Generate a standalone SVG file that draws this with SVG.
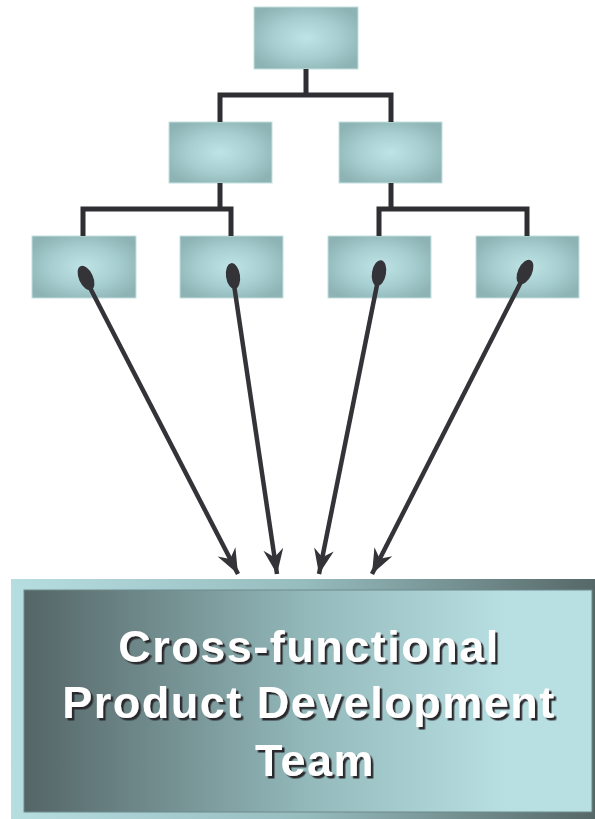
<svg xmlns="http://www.w3.org/2000/svg" width="595" height="819" viewBox="0 0 595 819">
<defs>
<radialGradient id="boxg" cx="0.5" cy="0.5" r="0.6">
<stop offset="0" stop-color="#bfe4e7"/>
<stop offset="0.55" stop-color="#a6cdcf"/>
<stop offset="1" stop-color="#8db3b4"/>
</radialGradient>
<linearGradient id="outerg" x1="0" y1="0" x2="1" y2="0">
<stop offset="0" stop-color="#b6dde0"/>
<stop offset="0.5" stop-color="#96bcbe"/>
<stop offset="1" stop-color="#556666"/>
</linearGradient>
<linearGradient id="innerg" x1="0" y1="0" x2="1" y2="0">
<stop offset="0" stop-color="#546566"/>
<stop offset="0.5" stop-color="#93b9bb"/>
<stop offset="0.85" stop-color="#b8dfe2"/>
<stop offset="1" stop-color="#b8dfe2"/>
</linearGradient>
<filter id="shadow" x="-5%" y="-20%" width="110%" height="140%">
<feDropShadow dx="2.5" dy="2.5" stdDeviation="0.4" flood-color="#2a2a2e" flood-opacity="1"/>
</filter>
<marker id="arr" markerUnits="userSpaceOnUse" markerWidth="30" markerHeight="30" refX="25" refY="10" orient="auto" viewBox="0 0 30 20">
<path d="M25,10 L0,0 L8,10 L0,20 Z" fill="#333338"/>
</marker>
<style>
.node rect{fill:url(#boxg);stroke:#c4e0e0;stroke-width:1}
.tree{fill:none;stroke:#2e2e33;stroke-width:5;stroke-linejoin:miter}
.arrow{fill:none;stroke:#333338;stroke-width:4.5}
.dot{fill:#333338}
.lbl{font-family:"Liberation Sans",Arial,sans-serif;font-weight:bold;font-size:45px;text-anchor:middle;letter-spacing:1.5px;fill:#ffffff;filter:url(#shadow)}
</style>
</defs>
<g id="node-top" class="node"><rect x="254" y="7" width="104" height="62"/></g>
<g id="node-l2a" class="node"><rect x="169" y="122" width="103" height="61"/></g>
<g id="node-l2b" class="node"><rect x="339" y="122" width="103" height="61"/></g>
<g id="node-l3a" class="node"><rect x="32" y="236" width="104" height="62"/></g>
<g id="node-l3b" class="node"><rect x="180" y="236" width="103" height="62"/></g>
<g id="node-l3c" class="node"><rect x="328" y="236" width="103" height="62"/></g>
<g id="node-l3d" class="node"><rect x="476" y="236" width="103" height="62"/></g>
<g id="connectors">
<path class="tree" d="M306,69 V95 M220,122 V95 H391 V122"/>
<path class="tree" d="M220,183 V209 M83,236 V209 H231 V236"/>
<path class="tree" d="M391,183 V209 M379,236 V209 H527 V236"/>
<ellipse class="dot" cx="86" cy="278" rx="7" ry="13" transform="rotate(-25 86 278)"/>
<ellipse class="dot" cx="233" cy="276" rx="7" ry="13" transform="rotate(-8 233 276)"/>
<ellipse class="dot" cx="379" cy="273" rx="7" ry="13" transform="rotate(10 379 273)"/>
<ellipse class="dot" cx="525" cy="272" rx="7" ry="13" transform="rotate(25 525 272)"/>
<line class="arrow" x1="86" y1="280" x2="238" y2="574" marker-end="url(#arr)"/>
<line class="arrow" x1="233" y1="278" x2="277" y2="574" marker-end="url(#arr)"/>
<line class="arrow" x1="379" y1="275" x2="319" y2="574" marker-end="url(#arr)"/>
<line class="arrow" x1="525" y1="274" x2="372" y2="574" marker-end="url(#arr)"/>
</g>
<g id="node-team">
<rect x="11" y="579" width="590" height="245" fill="url(#outerg)"/>
<rect x="24" y="590" width="568" height="222" fill="url(#innerg)" stroke="#6f8a8b" stroke-width="1"/>
<text class="lbl" x="309" y="662">Cross-functional</text>
<text class="lbl" x="309" y="718">Product Development</text>
<text class="lbl" x="315" y="776">Team</text>
</g>
</svg>
